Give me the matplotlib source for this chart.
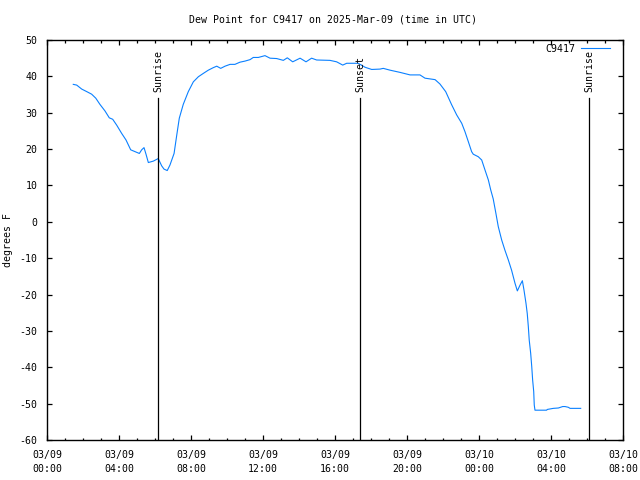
import matplotlib
matplotlib.use("Agg")
import matplotlib.pyplot as plt
import numpy as np

# Hours since 2025-03-09 00:00 UTC
hours = [1.46, 1.65, 1.93, 2.21, 2.48, 2.71, 2.94, 3.22, 3.46, 3.65, 3.87, 4.15,
         4.39, 4.65, 4.89, 5.13, 5.26, 5.39, 5.50, 5.63, 5.91, 6.18, 6.37, 6.50,
         6.68, 6.83, 7.06, 7.21, 7.35, 7.57, 7.85,
         8.13, 8.41, 8.68, 8.96, 9.24, 9.43, 9.65, 9.89, 10.17, 10.44, 10.72, 11.00,
         11.28, 11.46, 11.74, 12.11, 12.39, 12.76, 13.13, 13.35, 13.65, 14.06, 14.39,
         14.70, 14.98, 15.72, 16.09, 16.43, 16.65, 17.29, 17.67, 18.04, 18.50, 18.68,
         19.06, 19.61, 20.17, 20.72, 21.00, 21.56, 21.83, 22.15, 22.48, 22.76, 23.04,
         23.22, 23.41, 23.59, 23.68, 23.96, 24.15, 24.33, 24.52, 24.65, 24.79, 24.94,
         25.07, 25.26, 25.44, 25.63, 25.81, 26.00, 26.13, 26.28, 26.41, 26.50, 26.61,
         26.68, 26.74, 26.79, 26.87, 26.93, 26.98, 27.04, 27.07, 27.11, 27.76, 27.79,
         28.13, 28.41, 28.65, 28.78, 28.96, 29.06, 29.65]
dewpoint = [37.8, 37.6, 36.5, 35.8, 35.1, 34.0, 32.3, 30.5, 28.6, 28.2, 26.6, 24.3,
            22.5, 19.8, 19.3, 18.8, 19.8, 20.4, 18.6, 16.3, 16.7, 17.4, 15.4, 14.5,
            14.1, 15.6, 18.8, 23.9, 28.5, 32.3, 35.8,
            38.5, 39.9, 40.8, 41.7, 42.4, 42.8, 42.2, 42.8, 43.3, 43.3, 43.9, 44.2,
            44.6, 45.2, 45.2, 45.7, 45.0, 44.9, 44.4, 45.1, 44.0, 45.0, 44.0,
            45.0, 44.5, 44.4, 44.0, 43.1, 43.6, 43.6, 42.5, 41.9, 42.0, 42.2,
            41.7, 41.1, 40.4, 40.4, 39.5, 39.1, 37.9, 35.8, 32.2, 29.4, 27.1,
            24.8, 22.0, 19.3, 18.6, 17.9, 17.0, 14.3, 11.5, 8.8, 6.3, 2.3,
            -1.3, -5.0, -7.8, -10.5, -13.3, -16.9, -19.0, -17.4, -16.2, -18.8, -22.4,
            -25.2, -28.8, -32.5, -36.1, -39.8, -43.5, -46.7, -50.4, -51.8, -51.8, -51.6,
            -51.3, -51.2, -50.8, -50.8, -51.0, -51.3, -51.3]

series_name = "C9417"
sun_events = [("Sunrise", 6.17), ("Sunset", 17.39), ("Sunrise", 30.12)]
xtick_hours = [0, 4, 8, 12, 16, 20, 24, 28, 32]
xtick_labels = ["03/09\n00:00", "03/09\n04:00", "03/09\n08:00", "03/09\n12:00",
                "03/09\n16:00", "03/09\n20:00", "03/10\n00:00", "03/10\n04:00",
                "03/10\n08:00"]
yticks = list(range(-60, 51, 10))

font = "DejaVu Sans Mono"
fs = 7.1

fig = plt.figure(figsize=(6.4, 4.8), dpi=100)
ax = fig.add_axes([47/640, 40/480, 576/640, 400/480])

ax.plot(hours, dewpoint, color="#0a80ff", lw=0.8, label=series_name)

ax.set_xlim(0, 32)
ax.set_ylim(-60, 50)

for name, h in sun_events:
    ax.plot([h, h], [-60, 34.0], color="black", lw=0.9)
    ax.text(h, 35.6, name, rotation=90, ha="center", va="bottom",
            fontsize=fs, family=font)

ax.set_xticks(xtick_hours)
ax.set_xticklabels(xtick_labels, family=font, fontsize=fs, linespacing=1.5)
ax.set_xticks(np.arange(0, 33, 1), minor=True)
ax.set_yticks(yticks)
ax.set_yticklabels([str(v) for v in yticks], family=font, fontsize=fs)

ax.tick_params(which="major", direction="in", length=3.3, width=0.9, top=True, right=True)
ax.tick_params(axis="x", which="major", pad=7)
ax.tick_params(axis="y", which="major", pad=7)
ax.tick_params(which="minor", direction="in", length=1.8, width=0.9, top=True)
ax.tick_params(axis="y", which="minor", left=False, right=False)
for s in ax.spines.values():
    s.set_linewidth(1.0)

fig.text(8/640, 0.5, "degrees F", rotation=90, ha="center", va="center",
         family=font, fontsize=fs)
fig.text(333/640, 1 - 20/480, "Dew Point for C9417 on 2025-Mar-09 (time in UTC)",
         ha="center", va="center", family=font, fontsize=fs)

leg = ax.legend(loc="upper right", bbox_to_anchor=((614 - 47) / 576, 1.0),
                frameon=False, prop={"family": font, "size": fs},
                handlelength=2.9, markerfirst=False, borderaxespad=0.0,
                handletextpad=0.6)

fig.savefig("out.png", dpi=100)
